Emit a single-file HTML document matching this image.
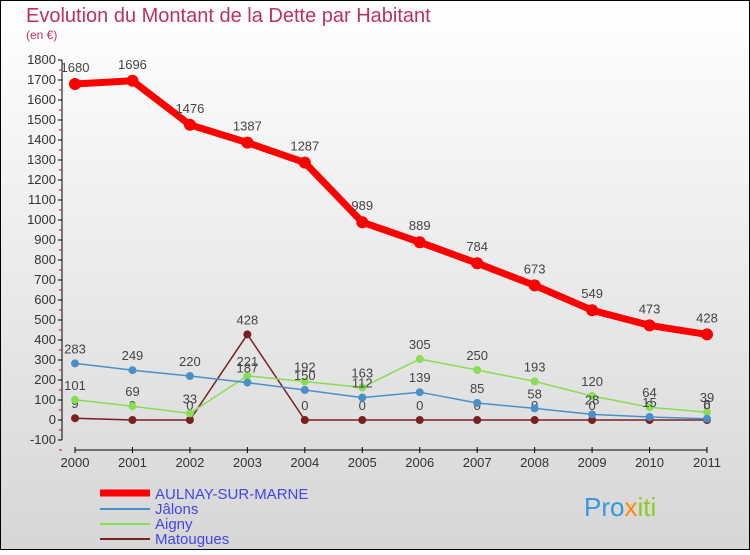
<!DOCTYPE html>
<html><head><meta charset="utf-8"><style>
body{margin:0;width:750px;height:550px;overflow:hidden;font-family:"Liberation Sans",sans-serif}
svg text{font-family:"Liberation Sans",sans-serif}
</style></head><body>
<svg id="c" width="750" height="550">
<defs><linearGradient id="bg" x1="0" y1="0" x2="0" y2="1"><stop offset="0" stop-color="#ffffff"/><stop offset="1" stop-color="#d6d6d6"/></linearGradient></defs>
<rect x="0.5" y="0.5" width="749" height="549" fill="url(#bg)" stroke="#000"/>
<text x="26" y="22" font-size="20" fill="#c0305f">Evolution du Montant de la Dette par Habitant</text>
<text x="26" y="39" font-size="12" fill="#c0305f">(en €)</text>
<g id="axes"></g><g id="series"></g>
<g>
<line x1="100" y1="493" x2="150" y2="493" stroke="#ff0000" stroke-width="7"/>
<text x="155" y="499" font-size="15" fill="#4444ee">AULNAY-SUR-MARNE</text>
<line x1="100" y1="509" x2="150" y2="509" stroke="#4a90c8" stroke-width="2"/>
<text x="155" y="514" font-size="15" fill="#4444ee">Jâlons</text>
<line x1="100" y1="524" x2="150" y2="524" stroke="#88dd55" stroke-width="2"/>
<text x="155" y="529" font-size="15" fill="#4444ee">Aigny</text>
<line x1="100" y1="539" x2="150" y2="539" stroke="#7a2020" stroke-width="2"/>
<text x="155" y="544" font-size="15" fill="#4444ee">Matougues</text>
</g>
<text x="584" y="516" font-size="26" fill="#3399dd">Pro<tspan fill="#ff8800">x</tspan><tspan fill="#88cc22">iti</tspan></text>
</svg>
<script>
const years=[2000,2001,2002,2003,2004,2005,2006,2007,2008,2009,2010,2011];
const aulnay=[1680,1696,1476,1387,1287,989,889,784,673,549,473,428];
const jalons=[283,249,220,187,150,112,139,85,58,28,15,6];
const aigny=[101,69,33,221,192,163,305,250,193,120,64,39];
const matougues=[9,0,0,428,0,0,0,0,0,0,0,0];
const yTicks=[-100,0,100,200,300,400,500,600,700,800,900,1000,1100,1200,1300,1400,1500,1600,1700,1800];
const NS='http://www.w3.org/2000/svg';
const X=i=>75+i*(707-75)/11, Y=v=>420-v*0.2;
function mk(t,a,p){const e=document.createElementNS(NS,t);for(const k in a)e.setAttribute(k,a[k]);p.appendChild(e);return e;}
const ax=document.getElementById('axes'),sg=document.getElementById('series');
let l=mk('line',{x1:62,y1:Y(1800),x2:62,y2:Y(-100),stroke:'#000'},ax);


yTicks.forEach(v=>{
 mk('line',{x1:58,x2:62,y1:Y(v),y2:Y(v),stroke:'#000'},ax);
 mk('line',{x1:59,x2:62,y1:Y(v)+10,y2:Y(v)+10,stroke:'#e00'},ax);
 const t=mk('text',{x:56,y:Y(v)+4,'font-size':13,'text-anchor':'end',fill:'#333'},ax);t.textContent=v;
 
 
});
l=mk('line',{x1:75,y1:450,x2:707,y2:450,stroke:'#000'},ax);


years.forEach((y,i)=>{
 mk('line',{x1:X(i),x2:X(i),y1:447,y2:453,stroke:'#000'},ax);
 const t=mk('text',{x:X(i),y:467,'font-size':13,'text-anchor':'middle',fill:'#333'},ax);t.textContent=y;
 
 
});
function series(d,col,w,r,name,lab){
 const g=mk('g',{},sg);
 
 
 mk('polyline',{points:d.map((v,i)=>X(i)+','+Y(v)).join(' '),fill:'none',stroke:col,'stroke-width':w,'stroke-linejoin':'round'},g);
 d.forEach((v,i)=>{
  const c=mk('circle',{cx:X(i),cy:Y(v),r:r,fill:col},g);
  
  
  const t=mk('text',{x:X(i),y:Y(v)-(r+6),'font-size':lab,'text-anchor':'middle',fill:'#444'},g);t.textContent=v;
 });
}
series(matougues,'#7a2020',1.5,4,'series-matougues',13);
series(aigny,'#88dd55',1.5,4,'series-aigny',13);
series(jalons,'#4a90c8',1.5,4,'series-jalons',13);
series(aulnay,'#ff0000',7,6,'series-aulnay',13);
</script>
</body></html>
